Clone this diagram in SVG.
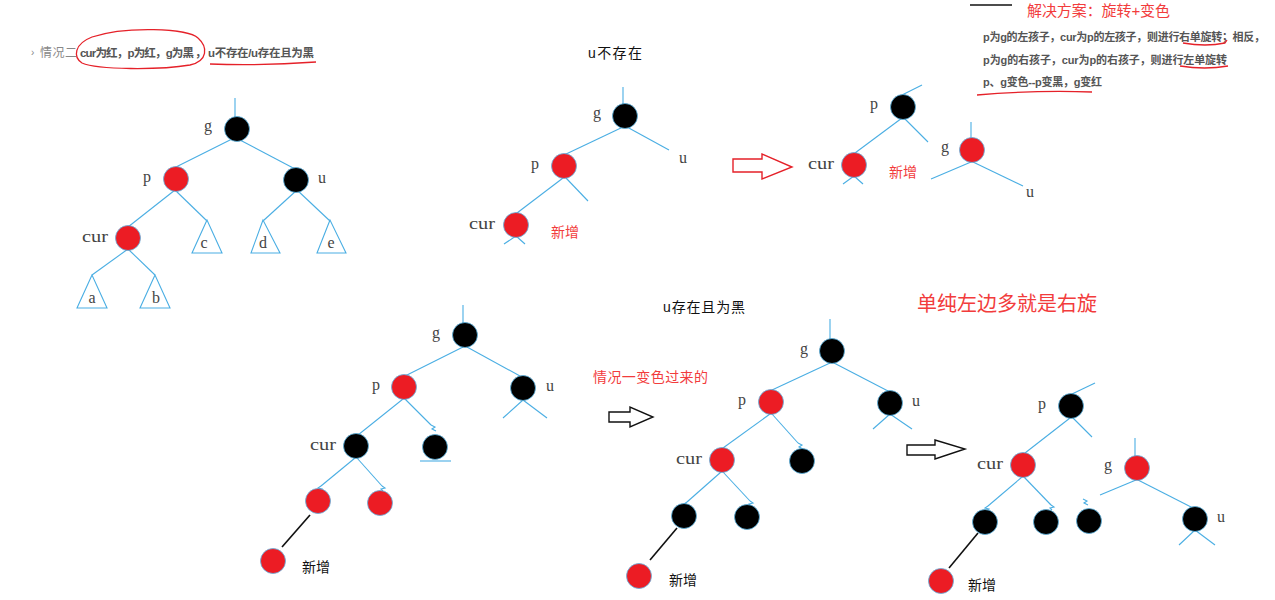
<svg xmlns="http://www.w3.org/2000/svg" width="1275" height="600" viewBox="0 0 1275 600">
<style>
.bg{fill:#fff}
.ln{stroke:#4aaee3;stroke-width:1.1;fill:none}
.bk{stroke:#111;stroke-width:1.6;fill:none}
.b{fill:#000;stroke:#5ab6e6;stroke-width:0.8}
.r{fill:#ec1c24;stroke:#5ab6e6;stroke-width:0.8}
.tri{fill:#fff;stroke:#4aaee3;stroke-width:1.1}
.lbl{font-family:"Liberation Serif","DejaVu Serif",serif;font-size:16px;fill:#444}
.cj{font-family:"Liberation Sans","Noto Sans CJK SC",sans-serif;font-size:14px;fill:#111}
.red{fill:#f23c3c}
.big{font-size:20px}
.mid{font-size:15px}
.gray{font-family:"Liberation Sans","Noto Sans CJK SC",sans-serif;font-size:12px;fill:#888}
.bold{font-family:"Liberation Sans","Noto Sans CJK SC",sans-serif;font-size:11.5px;font-weight:bold;fill:#555}
.tr{font-family:"Liberation Sans","Noto Sans CJK SC",sans-serif;font-size:11px;font-weight:bold;fill:#555}
.pen{stroke:#e52129;stroke-width:1.3;fill:none}
.arr{fill:#fff;stroke:#111;stroke-width:1.4}
.arrR{fill:#fff;stroke:#e52129;stroke-width:1.4}
</style>
<rect class="bg" x="0" y="0" width="1275" height="600"/>

<!-- header -->
<g id="header">
<text class="gray" x="31" y="56" style="font-size:10px">›</text>
<text class="gray" x="40" y="57" textLength="37">情况二</text>
<text class="bold" x="80" y="57" textLength="114">cur为红，p为红，g为黑</text>
<text class="bold" x="195" y="57">，</text>
<text class="bold" x="208" y="57" textLength="106">u不存在/u存在且为黑</text>
<path class="pen" d="M198 38 C188 28 125 26 92 37 C74 44 73 57 82 63 C98 70 160 70 190 65 C208 61 208 47 198 38"/>
<path class="pen" d="M210 64 Q260 66 316 62"/>
</g>

<g id="solution">
<line x1="970" y1="5" x2="1012" y2="5" stroke="#111" stroke-width="1.5"/>
<text class="cj red mid" x="1027" y="16" textLength="143">解决方案：旋转+变色</text>
<text class="tr" x="983" y="41" textLength="282">p为g的左孩子，cur为p的左孩子，则进行右单旋转；相反，</text>
<text class="tr" x="983" y="64" textLength="244">p为g的右孩子，cur为p的右孩子，则进行左单旋转</text>
<text class="tr" x="983" y="86" textLength="119">p、g变色--p变黑，g变红</text>
<path class="pen" d="M1183 43 Q1206 47 1225 43 L1227 40"/>
<path class="pen" d="M1180 66 Q1205 70 1228 66"/>
<path class="pen" d="M977 95 Q1035 90 1092 92"/>
</g>

<!-- connectors -->
<g id="connectors">
<!-- tree 1 -->
<line class="ln" x1="235" y1="98" x2="235" y2="117"/>
<line class="ln" x1="232" y1="139" x2="172" y2="169"/>
<line class="ln" x1="240" y1="140" x2="297" y2="170"/>
<line class="ln" x1="175" y1="190" x2="128" y2="227"/>
<line class="ln" x1="175" y1="190" x2="207" y2="221"/>
<line class="ln" x1="297" y1="190" x2="263" y2="221"/>
<line class="ln" x1="297" y1="190" x2="330" y2="221"/>
<line class="ln" x1="128" y1="249" x2="92" y2="275"/>
<line class="ln" x1="128" y1="249" x2="155" y2="275"/>
<!-- tree 2 -->
<line class="ln" x1="623" y1="87" x2="623" y2="104"/>
<line class="ln" x1="623" y1="127" x2="564" y2="155"/>
<line class="ln" x1="627" y1="127" x2="669" y2="150"/>
<line class="ln" x1="563" y1="178" x2="517" y2="213"/>
<line class="ln" x1="566" y1="178" x2="588" y2="201"/>
<line class="ln" x1="516" y1="236" x2="504" y2="244"/>
<line class="ln" x1="516" y1="236" x2="525" y2="244"/>
<!-- tree 3 -->
<line class="ln" x1="902" y1="95" x2="922" y2="85"/>
<line class="ln" x1="902" y1="118" x2="855" y2="153"/>
<line class="ln" x1="904" y1="118" x2="928" y2="142"/>
<line class="ln" x1="854" y1="176" x2="843" y2="184"/>
<line class="ln" x1="854" y1="176" x2="863" y2="184"/>
<line class="ln" x1="971" y1="122" x2="971" y2="138"/>
<line class="ln" x1="971" y1="162" x2="931" y2="179"/>
<line class="ln" x1="973" y1="162" x2="1023" y2="186"/>
<!-- tree A -->
<line class="ln" x1="463" y1="305" x2="463" y2="323"/>
<line class="ln" x1="463" y1="347" x2="405" y2="376"/>
<line class="ln" x1="467" y1="347" x2="520" y2="376"/>
<line class="ln" x1="523" y1="400" x2="503" y2="418"/>
<line class="ln" x1="523" y1="400" x2="547" y2="418"/>
<line class="ln" x1="403" y1="399" x2="358" y2="435"/>
<line class="ln" x1="405" y1="399" x2="431" y2="425"/>
<path class="ln" d="M431 425 l4 2 l-3 2 l4 2"/>
<line class="ln" x1="420" y1="461" x2="451" y2="461"/>
<line class="ln" x1="355" y1="458" x2="321" y2="486"/>
<path class="ln" d="M321 486 l-3 2 l4 1 l-2 2"/>
<line class="ln" x1="357" y1="458" x2="382" y2="486"/>
<path class="ln" d="M382 486 l3 2 l-4 1 l2 2"/>
<line class="bk" x1="310" y1="515" x2="282" y2="547"/>
<!-- tree B -->
<line class="ln" x1="830" y1="319" x2="830" y2="339"/>
<line class="ln" x1="830" y1="363" x2="772" y2="390"/>
<line class="ln" x1="834" y1="363" x2="888" y2="391"/>
<line class="ln" x1="890" y1="414" x2="873" y2="429"/>
<line class="ln" x1="890" y1="414" x2="912" y2="429"/>
<line class="ln" x1="770" y1="414" x2="723" y2="448"/>
<line class="ln" x1="772" y1="414" x2="798" y2="443"/>
<path class="ln" d="M798 443 l4 2 l-3 2 l4 2"/>
<line class="ln" x1="721" y1="472" x2="687" y2="502"/>
<path class="ln" d="M687 502 l-3 2 l4 1 l-2 2"/>
<line class="ln" x1="723" y1="472" x2="750" y2="501"/>
<path class="ln" d="M750 501 l3 2 l-4 1 l2 2"/>
<line class="bk" x1="677" y1="528" x2="650" y2="560"/>
<!-- tree C -->
<line class="ln" x1="1072" y1="394" x2="1095" y2="383"/>
<line class="ln" x1="1070" y1="418" x2="1025" y2="453"/>
<line class="ln" x1="1073" y1="418" x2="1092" y2="437"/>
<line class="ln" x1="1022" y1="477" x2="988" y2="506"/>
<path class="ln" d="M988 506 l-3 2 l4 1 l-2 2"/>
<line class="ln" x1="1024" y1="477" x2="1051" y2="505"/>
<path class="ln" d="M1051 505 l3 2 l-4 1 l2 2"/>
<line class="bk" x1="978" y1="533" x2="949" y2="568"/>
<line class="ln" x1="1135" y1="438" x2="1135" y2="456"/>
<line class="ln" x1="1136" y1="480" x2="1100" y2="495"/>
<line class="ln" x1="1138" y1="480" x2="1193" y2="508"/>
<path class="ln" d="M1083 499 l4 2 l-3 2 l4 2"/>
<line class="ln" x1="1195" y1="530" x2="1179" y2="545"/>
<line class="ln" x1="1195" y1="530" x2="1215" y2="545"/>
</g>

<!-- arrows -->
<g id="arrow-red"><polygon class="arrR" points="733,159 762,159 762,154 792,167 762,179 762,172 733,172"/></g>
<g id="arrow-1"><polygon class="arr" points="609,412 630,412 630,407 653,417 630,427 630,422 609,422"/></g>
<g id="arrow-2"><polygon class="arr" points="907,445 935,445 935,440 965,449 935,459 935,455 907,455"/></g>

<!-- tree 1 nodes -->
<g id="t1-g"><circle class="b" cx="237" cy="129" r="12.5"/><text class="lbl" x="204" y="131">g</text></g>
<g id="t1-p"><circle class="r" cx="176" cy="179" r="12.5"/><text class="lbl" x="143" y="182">p</text></g>
<g id="t1-u"><circle class="b" cx="296" cy="180" r="12.5"/><text class="lbl" x="318" y="183">u</text></g>
<g id="t1-cur"><circle class="r" cx="128" cy="238" r="12.5"/><text class="lbl" x="82" y="242" textLength="26" lengthAdjust="spacingAndGlyphs">cur</text></g>
<g id="t1-a"><polygon class="tri" points="92,275 77,308 107,308"/><text class="lbl" x="92" y="303" text-anchor="middle">a</text></g>
<g id="t1-b"><polygon class="tri" points="155,275 140,308 170,308"/><text class="lbl" x="156" y="303" text-anchor="middle">b</text></g>
<g id="t1-c"><polygon class="tri" points="207,220 192,253 222,253"/><text class="lbl" x="204" y="248" text-anchor="middle">c</text></g>
<g id="t1-d"><polygon class="tri" points="263,220 251,253 280,253"/><text class="lbl" x="263" y="248" text-anchor="middle">d</text></g>
<g id="t1-e"><polygon class="tri" points="330,220 317,253 346,253"/><text class="lbl" x="331" y="248" text-anchor="middle">e</text></g>

<!-- tree 2 -->
<g id="t2-title"><text class="cj" x="588" y="58" textLength="54">u不存在</text></g>
<g id="t2-g"><circle class="b" cx="625" cy="116" r="12.5"/><text class="lbl" x="593" y="118">g</text></g>
<g id="t2-u"><text class="lbl" x="679" y="163">u</text></g>
<g id="t2-p"><circle class="r" cx="564" cy="166" r="12.5"/><text class="lbl" x="531" y="169">p</text></g>
<g id="t2-cur"><circle class="r" cx="516" cy="225" r="12.5"/><text class="lbl" x="469" y="229" textLength="26" lengthAdjust="spacingAndGlyphs">cur</text><text class="cj red" x="551" y="237">新增</text></g>

<!-- tree 3 -->
<g id="t3-p"><circle class="b" cx="903" cy="107" r="12.5"/><text class="lbl" x="870" y="109">p</text></g>
<g id="t3-cur"><circle class="r" cx="854" cy="165" r="12.5"/><text class="lbl" x="808" y="169" textLength="26" lengthAdjust="spacingAndGlyphs">cur</text><text class="cj red" x="889" y="177">新增</text></g>
<g id="t3-g"><circle class="r" cx="972" cy="150" r="12.5"/><text class="lbl" x="941" y="152">g</text></g>
<g id="t3-u"><text class="lbl" x="1026" y="197">u</text></g>

<!-- tree A -->
<g id="tA-g"><circle class="b" cx="465" cy="335" r="12.5"/><text class="lbl" x="432" y="338">g</text></g>
<g id="tA-p"><circle class="r" cx="404" cy="387" r="12.5"/><text class="lbl" x="372" y="390">p</text></g>
<g id="tA-u"><circle class="b" cx="523" cy="388" r="12.5"/><text class="lbl" x="546" y="391">u</text></g>
<g id="tA-cur"><circle class="b" cx="356" cy="446" r="12.5"/><text class="lbl" x="310" y="450" textLength="26" lengthAdjust="spacingAndGlyphs">cur</text></g>
<g id="tA-s"><circle class="b" cx="435" cy="447" r="12.5"/></g>
<g id="tA-l"><circle class="r" cx="318" cy="501" r="12.5"/></g>
<g id="tA-r"><circle class="r" cx="380" cy="503" r="12.5"/></g>
<g id="tA-new"><circle class="r" cx="273" cy="561" r="12.5"/><text class="cj" x="302" y="572">新增</text></g>

<!-- tree B -->
<g id="tB-title"><text class="cj" x="663" y="312" textLength="82">u存在且为黑</text><text class="cj red" x="593" y="382" textLength="115">情况一变色过来的</text></g>
<g id="tB-g"><circle class="b" cx="832" cy="351" r="12.5"/><text class="lbl" x="800" y="354">g</text></g>
<g id="tB-p"><circle class="r" cx="771" cy="402" r="12.5"/><text class="lbl" x="738" y="405">p</text></g>
<g id="tB-u"><circle class="b" cx="890" cy="403" r="12.5"/><text class="lbl" x="912" y="406">u</text></g>
<g id="tB-cur"><circle class="r" cx="722" cy="460" r="12.5"/><text class="lbl" x="676" y="464" textLength="26" lengthAdjust="spacingAndGlyphs">cur</text></g>
<g id="tB-s"><circle class="b" cx="802" cy="461" r="12.5"/></g>
<g id="tB-l"><circle class="b" cx="684" cy="516" r="12.5"/></g>
<g id="tB-r"><circle class="b" cx="747" cy="517" r="12.5"/></g>
<g id="tB-new"><circle class="r" cx="639" cy="576" r="12.5"/><text class="cj" x="669" y="585">新增</text></g>

<!-- tree C -->
<g id="tC-title"><text class="cj red big" x="917" y="311" textLength="180">单纯左边多就是右旋</text></g>
<g id="tC-p"><circle class="b" cx="1071" cy="406" r="12.5"/><text class="lbl" x="1038" y="409">p</text></g>
<g id="tC-cur"><circle class="r" cx="1023" cy="465" r="12.5"/><text class="lbl" x="977" y="469" textLength="26" lengthAdjust="spacingAndGlyphs">cur</text></g>
<g id="tC-l"><circle class="b" cx="985" cy="522" r="12.5"/></g>
<g id="tC-r"><circle class="b" cx="1046" cy="522" r="12.5"/></g>
<g id="tC-new"><circle class="r" cx="941" cy="581" r="12.5"/><text class="cj" x="968" y="590">新增</text></g>
<g id="tC-g"><circle class="r" cx="1137" cy="468" r="12.5"/><text class="lbl" x="1104" y="470">g</text></g>
<g id="tC-s"><circle class="b" cx="1089" cy="521" r="12.5"/></g>
<g id="tC-u"><circle class="b" cx="1195" cy="519" r="12.5"/><text class="lbl" x="1217" y="522">u</text></g>
</svg>
